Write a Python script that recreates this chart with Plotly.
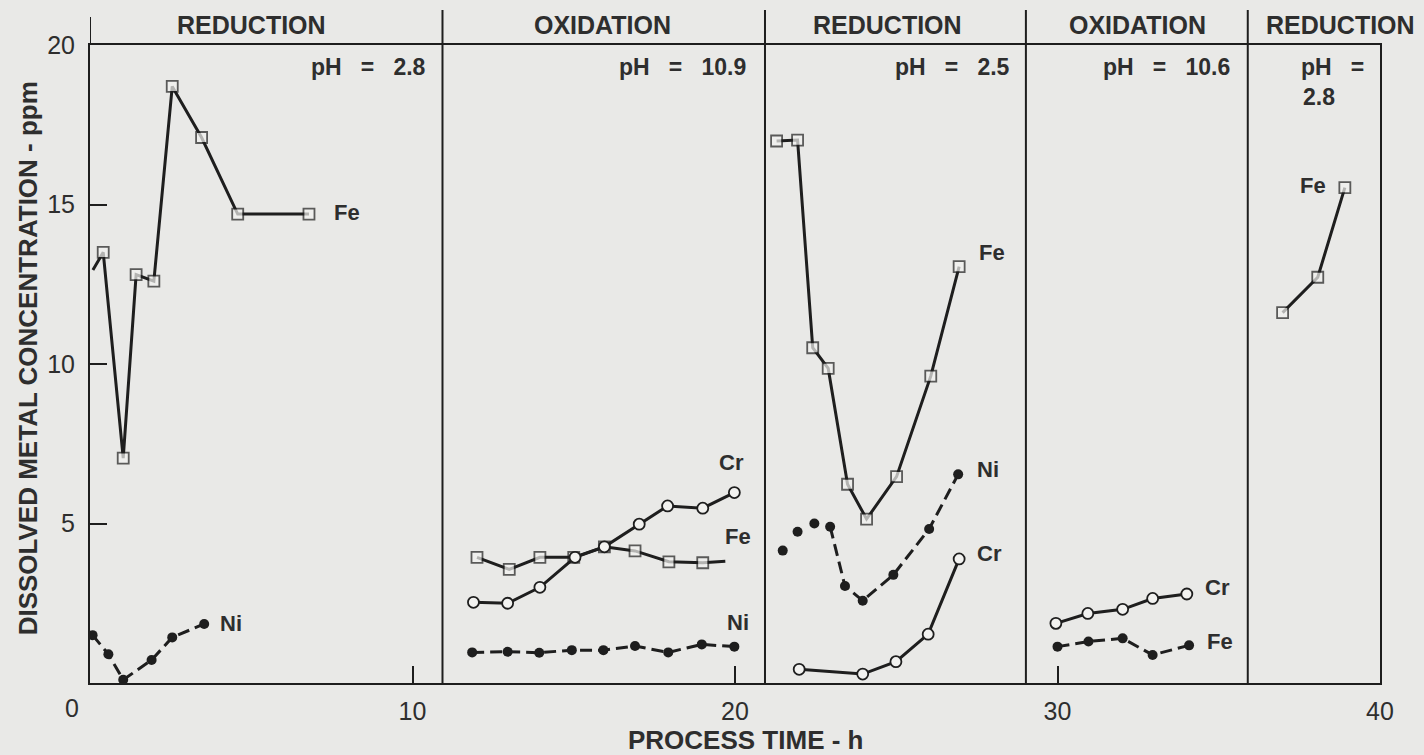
import plotly.graph_objects as go

# ---------------- data ----------------
# Panel 1 (reduction, pH 2.8)
p1_fe_t = [0.09, 0.41, 1.03, 1.43, 1.98, 2.55, 3.46, 4.58, 6.79]
p1_fe_c = [12.95, 13.5, 7.05, 12.8, 12.6, 18.7, 17.1, 14.7, 14.7]
p1_ni_t = [0.08, 0.57, 1.03, 1.91, 2.55, 3.54]
p1_ni_c = [1.5, 0.9, 0.1, 0.72, 1.43, 1.85]

# Panel 2 (oxidation, pH 10.9)
p2_fe_t = [12.0, 13.0, 13.95, 15.0, 15.95, 16.9, 17.95, 19.0, 19.7]
p2_fe_c = [3.94, 3.56, 3.94, 3.94, 4.27, 4.14, 3.8, 3.77, 3.82]
p2_cr_t = [11.89, 12.95, 13.95, 15.04, 15.95, 17.03, 17.91, 19.0, 19.98]
p2_cr_c = [2.53, 2.5, 3.0, 3.94, 4.27, 4.98, 5.55, 5.48, 5.97]
p2_ni_t = [11.85, 12.95, 13.93, 14.94, 15.92, 16.9, 17.93, 18.97, 19.98]
p2_ni_c = [0.96, 0.98, 0.95, 1.03, 1.03, 1.16, 0.96, 1.21, 1.14]

# Panel 3 (reduction, pH 2.5)
p3_fe_t = [21.29, 21.94, 22.41, 22.89, 23.49, 24.08, 25.01, 26.07, 26.95]
p3_fe_c = [16.99, 17.02, 10.51, 9.86, 6.23, 5.14, 6.47, 9.62, 13.05]
p3_ni_t = [21.48, 21.94, 22.46, 22.95, 23.41, 23.96, 24.91, 26.02, 26.92]
p3_ni_c = [4.15, 4.74, 5.0, 4.9, 3.04, 2.58, 3.39, 4.83, 6.54]
p3_cr_t = [21.99, 23.96, 24.99, 25.99, 26.95]
p3_cr_c = [0.43, 0.28, 0.67, 1.53, 3.89]

# Panel 4 (oxidation, pH 10.6)
p4_cr_t = [29.95, 30.94, 32.02, 32.95, 34.01]
p4_cr_c = [1.87, 2.18, 2.31, 2.65, 2.79]
p4_fe_t = [30.0, 30.96, 32.02, 32.95, 34.08]
p4_fe_c = [1.14, 1.3, 1.4, 0.88, 1.18]

# Panel 5 (reduction, pH 2.8)
p5_fe_t = [36.98, 38.07, 38.91]
p5_fe_c = [11.61, 12.72, 15.53]

phase_names = ["REDUCTION", "OXIDATION", "REDUCTION", "OXIDATION", "REDUCTION"]
phase_label_x = [5.02, 15.9, 24.74, 32.47, 38.76]
phase_bounds = [10.93, 20.93, 29.02, 35.9]
ph_values = ["2.8", "10.9", "2.5", "10.6"]
ph_label_x = [10.48, 20.4, 28.6, 35.4]
ph_last = "2.8"

x_ticks = [10, 20, 30, 40]
y_ticks = [5, 10, 15, 20]

# ---------------- style ----------------
BG = "#e9e9e7"
MFILL = "#f2f2f0"
INK = "#1e1e1e"
TXT = "#2e2e2e"
FONT = "Liberation Sans, Arial, sans-serif"
SP = "\u00a0"

fig = go.Figure()


def open_sq(t, c, hide_first=False, hide_last=False):
    n = len(t)
    sizes = [11] * n
    if hide_first:
        sizes[0] = 0
    if hide_last:
        sizes[-1] = 0
    fig.add_trace(go.Scatter(
        x=t, y=c, mode="lines+markers",
        line=dict(color=INK, width=3),
        marker=dict(symbol="square", size=sizes, color=MFILL,
                    line=dict(color=INK, width=1.8)),
        showlegend=False, hoverinfo="x+y"))


def open_circ(t, c):
    fig.add_trace(go.Scatter(
        x=t, y=c, mode="lines+markers",
        line=dict(color=INK, width=3),
        marker=dict(symbol="circle", size=11, color=MFILL,
                    line=dict(color=INK, width=1.8)),
        showlegend=False, hoverinfo="x+y"))


def filled_dash(t, c, mode="lines+markers"):
    fig.add_trace(go.Scatter(
        x=t, y=c, mode=mode,
        line=dict(color=INK, width=3, dash="12px,6px"),
        marker=dict(symbol="circle", size=10, color=INK),
        showlegend=False, hoverinfo="x+y"))


# Panel 1
open_sq(p1_fe_t, p1_fe_c, hide_first=True)
filled_dash(p1_ni_t, p1_ni_c)
# Panel 2
open_sq(p2_fe_t, p2_fe_c, hide_last=True)
open_circ(p2_cr_t, p2_cr_c)
filled_dash(p2_ni_t, p2_ni_c)
# Panel 3
open_sq(p3_fe_t, p3_fe_c)
filled_dash(p3_ni_t[:3], p3_ni_c[:3], mode="markers")
filled_dash(p3_ni_t[3:], p3_ni_c[3:])
open_circ(p3_cr_t, p3_cr_c)
# Panel 4
open_circ(p4_cr_t, p4_cr_c)
filled_dash(p4_fe_t, p4_fe_c)
# Panel 5
open_sq(p5_fe_t, p5_fe_c)

# ---------------- shapes ----------------
shapes = []
for b in phase_bounds:
    shapes.append(dict(type="line", xref="x", yref="paper", x0=b, x1=b,
                       y0=0, y1=1.055, line=dict(color=INK, width=2)))
shapes.append(dict(type="line", xref="x", yref="paper", x0=0, x1=0,
                   y0=1, y1=1.044, line=dict(color=INK, width=2)))

# ---------------- annotations ----------------
ann = []
for name, xc in zip(phase_names, phase_label_x):
    ann.append(dict(x=xc, y=1.031, xref="x", yref="paper", text=name,
                    showarrow=False, xanchor="center", yanchor="middle",
                    font=dict(family=FONT, size=25, color=TXT, weight="bold")))
for val, xr in zip(ph_values, ph_label_x):
    ann.append(dict(x=xr, y=0.9655, xref="x", yref="paper",
                    text="pH" + SP * 3 + "=" + SP * 3 + val,
                    showarrow=False, xanchor="right", yanchor="middle",
                    font=dict(family=FONT, size=23, color=TXT, weight="bold")))
ann.append(dict(x=37.5, y=0.9655, xref="x", yref="paper",
                text="pH" + SP * 3 + "=",
                showarrow=False, xanchor="left", yanchor="middle",
                font=dict(family=FONT, size=23, color=TXT, weight="bold")))
ann.append(dict(x=37.55, y=0.918, xref="x", yref="paper", text=ph_last,
                showarrow=False, xanchor="left", yanchor="middle",
                font=dict(family=FONT, size=23, color=TXT, weight="bold")))

series_labels = [
    ("Fe", 7.5, 14.76, "left"),
    ("Ni", 3.97, 1.85, "left"),
    ("Cr", 19.88, 6.9, "center"),
    ("Fe", 20.1, 4.58, "center"),
    ("Ni", 20.1, 1.91, "center"),
    ("Fe", 27.5, 13.5, "left"),
    ("Ni", 27.44, 6.68, "left"),
    ("Cr", 27.44, 4.07, "left"),
    ("Cr", 34.5, 2.98, "left"),
    ("Fe", 34.57, 1.29, "left"),
    ("Fe", 37.46, 15.6, "left"),
]
for txt, xx, yy, anc in series_labels:
    ann.append(dict(x=xx, y=yy, xref="x", yref="y", text=txt,
                    showarrow=False, xanchor=anc, yanchor="middle",
                    font=dict(family=FONT, size=22, color=TXT, weight="bold")))

ann.append(dict(x=-0.014, y=-0.039, xref="paper", yref="paper", text="0",
                showarrow=False, xanchor="center", yanchor="middle",
                font=dict(family=FONT, size=25, color=TXT)))
ann.append(dict(x=0.508, y=-0.0893, xref="paper", yref="paper",
                text="PROCESS TIME - h", showarrow=False,
                xanchor="center", yanchor="middle",
                font=dict(family=FONT, size=26, color=TXT, weight="bold")))
ann.append(dict(x=-0.048, y=0.509, xref="paper", yref="paper",
                text="DISSOLVED METAL CONCENTRATION - ppm", textangle=-90,
                showarrow=False, xanchor="center", yanchor="middle",
                font=dict(family=FONT, size=26, color=TXT, weight="bold")))

fig.update_layout(
    width=1424, height=755,
    margin=dict(l=90, r=44, t=45, b=72),
    paper_bgcolor=BG, plot_bgcolor=BG,
    shapes=shapes, annotations=ann,
    xaxis=dict(range=[0, 40], tickvals=x_ticks,
               ticktext=[str(v) for v in x_ticks],
               ticks="inside", ticklen=17, tickwidth=2, tickcolor=INK,
               showline=True, linewidth=2, linecolor=INK, mirror=True,
               showgrid=False, zeroline=False, ticklabelstandoff=5,
               tickfont=dict(family=FONT, size=25, color=TXT)),
    yaxis=dict(range=[0, 20], tickvals=y_ticks,
               ticktext=[str(v) for v in y_ticks],
               ticks="inside", ticklen=17, tickwidth=2, tickcolor=INK,
               showline=True, linewidth=2, linecolor=INK, mirror=True,
               showgrid=False, zeroline=False, ticklabelstandoff=8,
               tickfont=dict(family=FONT, size=25, color=TXT)),
)

fig.write_html(
    "out.html",
    config={"displayModeBar": False},
    post_script="document.body.style.margin='0';"
                "document.body.style.background='" + BG + "';",
)
